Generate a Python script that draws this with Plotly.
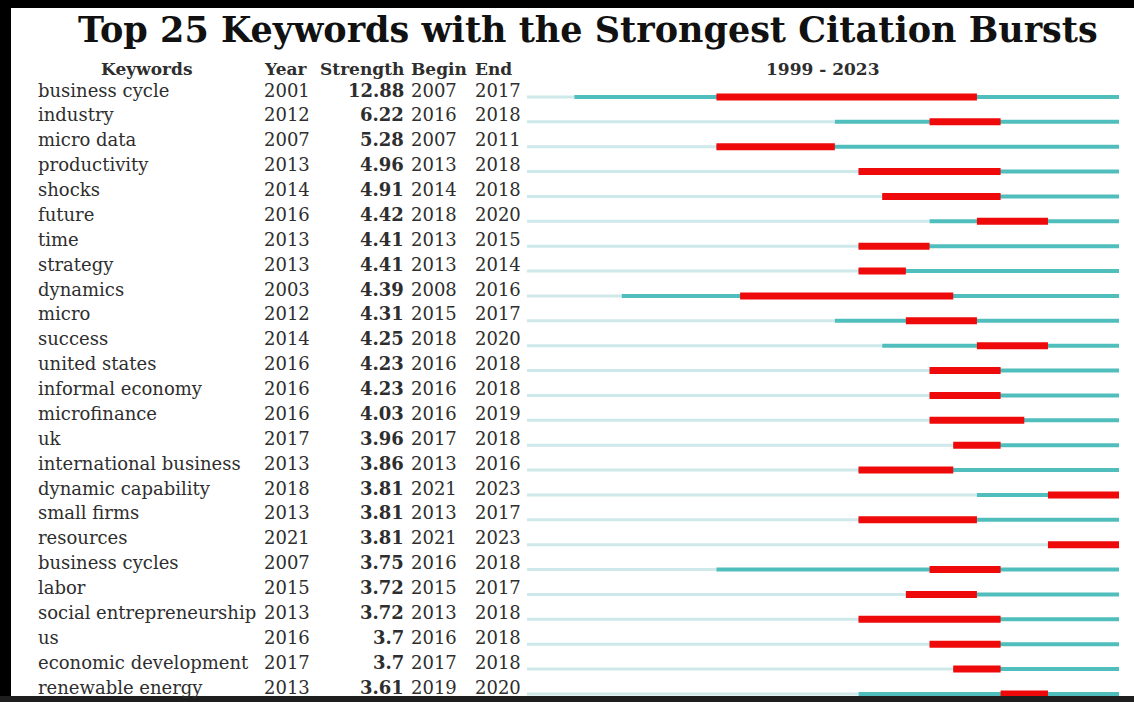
import plotly.graph_objects as go

# ---------------- data ----------------
keywords = ["business cycle", "industry", "micro data", "productivity", "shocks",
            "future", "time", "strategy", "dynamics", "micro", "success",
            "united states", "informal economy", "microfinance", "uk",
            "international business", "dynamic capability", "small firms",
            "resources", "business cycles", "labor", "social entrepreneurship",
            "us", "economic development", "renewable energy"]
years = [2001, 2012, 2007, 2013, 2014, 2016, 2013, 2013, 2003, 2012, 2014, 2016, 2016,
         2016, 2017, 2013, 2018, 2013, 2021, 2007, 2015, 2013, 2016, 2017, 2013]
strengths = [12.88, 6.22, 5.28, 4.96, 4.91, 4.42, 4.41, 4.41, 4.39, 4.31, 4.25, 4.23, 4.23,
             4.03, 3.96, 3.86, 3.81, 3.81, 3.81, 3.75, 3.72, 3.72, 3.7, 3.7, 3.61]
begins = [2007, 2016, 2007, 2013, 2014, 2018, 2013, 2013, 2008, 2015, 2018, 2016, 2016,
          2016, 2017, 2013, 2021, 2013, 2021, 2016, 2015, 2013, 2016, 2017, 2019]
ends = [2017, 2018, 2011, 2018, 2018, 2020, 2015, 2014, 2016, 2017, 2020, 2018, 2018,
        2019, 2018, 2016, 2023, 2017, 2023, 2018, 2017, 2018, 2018, 2018, 2020]
first_year, last_year = 1999, 2023
title = "Top 25 Keywords with the Strongest Citation Bursts"
headers = ["Keywords", "Year", "Strength", "Begin", "End"]

# ---------------- layout constants ----------------
W, H = 1134, 702
BAR_X0, BAR_X1 = 527, 1119
ROW0, ROW_STEP = 97, 24.875
FONT = "DejaVu Serif"
TXT = "#2e2e2e"
LIGHT, TEAL, RED = "#cfe9ea", "#50bebc", "#ee0a0a"

n = len(keywords)
rows = list(range(n))

def seg(starts, stops):
    xs, ys = [], []
    for i, (a, b) in enumerate(zip(starts, stops)):
        xs += [a, b, None]
        ys += [i, i, None]
    return xs, ys

fig = go.Figure()
lx, ly = seg([first_year] * n, years)
tx, ty = seg(years, [last_year + 1] * n)
rx, ry = seg(begins, [e + 1 for e in ends])
fig.add_trace(go.Scatter(x=lx, y=ly, mode="lines", line=dict(color=LIGHT, width=3),
                         hoverinfo="skip", showlegend=False))
fig.add_trace(go.Scatter(x=tx, y=ty, mode="lines", line=dict(color=TEAL, width=4),
                         hoverinfo="skip", showlegend=False))
fig.add_trace(go.Scatter(x=rx, y=ry, mode="lines", line=dict(color=RED, width=7),
                         hoverinfo="skip", showlegend=False))

ann = []
def px(x):
    return x / W
def py(y):
    return 1 - y / H

# title
ann.append(dict(text="<b>" + title + "</b>", x=px(588), y=py(29), xref="paper", yref="paper",
                xanchor="center", yanchor="middle", showarrow=False,
                font=dict(family=FONT, size=35, color="#111111")))
# headers
HY = py(69)
hfont = dict(family=FONT, size=17, color=TXT)
ann.append(dict(text="<b>Keywords</b>", x=px(146), y=HY, xanchor="center"))
ann.append(dict(text="<b>Year</b>", x=px(262), y=HY, xanchor="left"))
ann.append(dict(text="<b>Strength</b>", x=px(406), y=HY, xanchor="right"))
ann.append(dict(text="<b>Begin</b>", x=px(409), y=HY, xanchor="left"))
ann.append(dict(text="<b>End</b>", x=px(473), y=HY, xanchor="left"))
ann.append(dict(text="<b>%d - %d</b>" % (first_year, last_year), x=px((BAR_X0 + BAR_X1) / 2),
                y=HY, xanchor="center"))
for a in ann[1:]:
    a.update(xref="paper", yref="paper", yanchor="middle", showarrow=False, font=hfont)

rfont = dict(family=FONT, size=18, color=TXT)
for i in rows:
    cells = [
        (keywords[i], 36, "left"),
        (str(years[i]), 262, "left"),
        ("<b>%s</b>" % strengths[i], 406, "right"),
        (str(begins[i]), 409, "left"),
        (str(ends[i]), 473, "left"),
    ]
    for text, x, anchor in cells:
        ann.append(dict(text=text, x=px(x), y=i, xref="paper", yref="y", yshift=7,
                        xanchor=anchor, yanchor="middle", showarrow=False, font=rfont))

shapes = [
    dict(type="rect", xref="paper", yref="paper", x0=0, x1=px(11), y0=0, y1=1,
         fillcolor="#000000", line_width=0),
    dict(type="rect", xref="paper", yref="paper", x0=0, x1=1, y0=py(8), y1=1,
         fillcolor="#000000", line_width=0),
    dict(type="rect", xref="paper", yref="paper", x0=0, x1=1, y0=0, y1=py(696),
         fillcolor="#1e1e1e", line_width=0),
]

fig.update_layout(
    width=W, height=H, margin=dict(l=0, r=0, t=0, b=0),
    paper_bgcolor="white", plot_bgcolor="white",
    xaxis=dict(domain=[px(BAR_X0), px(BAR_X1)], range=[first_year, last_year + 1],
               visible=False, fixedrange=True),
    yaxis=dict(domain=[0, 1], range=[(H - ROW0) / ROW_STEP, -ROW0 / ROW_STEP],
               visible=False, fixedrange=True),
    annotations=ann, shapes=shapes, showlegend=False,
)

fig.write_html("out.html", config={"displayModeBar": False},
               post_script="document.body.style.margin='0';document.body.style.padding='0';document.body.style.overflow='hidden';")
